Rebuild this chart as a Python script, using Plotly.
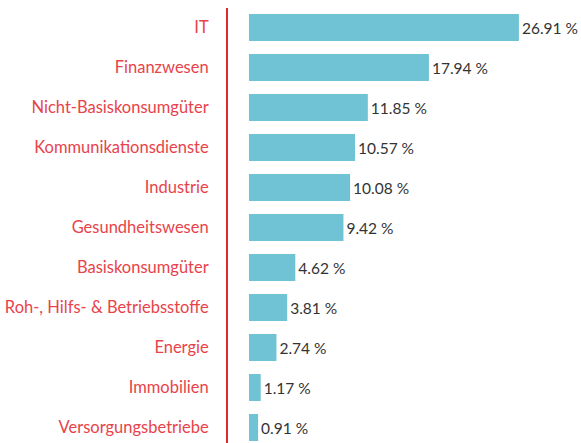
import plotly.graph_objects as go

sectors = ["IT", "Finanzwesen", "Nicht-Basiskonsumgüter", "Kommunikationsdienste",
           "Industrie", "Gesundheitswesen", "Basiskonsumgüter",
           "Roh-, Hilfs- & Betriebsstoffe", "Energie", "Immobilien", "Versorgungsbetriebe"]
weights = [26.91, 17.94, 11.85, 10.57, 10.08, 9.42, 4.62, 3.81, 2.74, 1.17, 0.91]
value_labels = [f"{v:.2f} %" for v in weights]

fig = go.Figure(go.Bar(
    x=weights, y=sectors, orientation="h",
    marker=dict(color="#6fc3d5", line=dict(width=0)),
    text=value_labels, textposition="outside", cliponaxis=False,
    textfont=dict(family="Lato", size=15.5, color="#333333"),
    hoverinfo="skip",
))

fig.update_layout(
    width=581, height=443,
    margin=dict(l=228, r=0, t=8, b=0, autoexpand=False),
    paper_bgcolor="white", plot_bgcolor="white",
    bargap=0.325, showlegend=False,
    xaxis=dict(range=[-2.09, 33.1], visible=False, showgrid=False, zeroline=False,
               automargin=False),
    yaxis=dict(
        type="category", range=[10.3875, -0.4875], automargin=False,
        showline=True, linecolor="#e0282e", linewidth=2,
        showgrid=False, zeroline=False,
        ticks="outside", ticklen=14, tickcolor="rgba(0,0,0,0)",
        tickfont=dict(family="Lato", size=16.5, color="#e8434a"),
    ),
)

fig.write_html("out.html", config={"displayModeBar": False},
               post_script="document.body.style.margin='0';document.body.style.overflow='hidden';")
